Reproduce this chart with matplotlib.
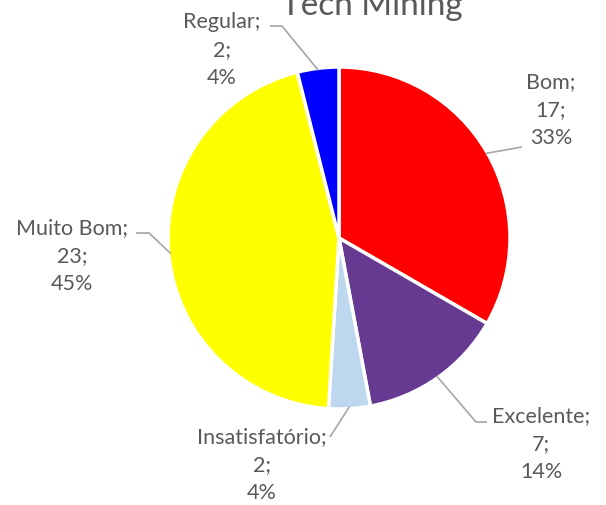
import numpy as np
import matplotlib
matplotlib.use("Agg")
import matplotlib.pyplot as plt

plt.rcParams["font.family"] = ["Lato", "DejaVu Sans"]

categories = ["Bom", "Excelente", "Insatisfatório", "Muito Bom", "Regular"]
values = [17, 7, 2, 23, 2]
colors = ["#FF0000", "#673A92", "#BDD7EE", "#FFFF00", "#0000FF"]

W, H = 606, 505
CX, CY, R = 339, H - 238, 171
TXT = "#595959"
LINE = "#A6A6A6"

# label centre (pixels from top-left) and leader-line elbow/end
label_pos = {
    "Bom": (551, 110, [(522, 147)]),
    "Excelente": (541, 444, [(476, 422), (487, 422)]),
    "Insatisfatório": (262, 465, [(330, 437)]),
    "Muito Bom": (72, 256, [(149, 233), (136, 233)]),
    "Regular": (222, 50, [(282, 26), (270, 26)]),
}

fig = plt.figure(figsize=(W / 100, H / 100), dpi=100)
ax = fig.add_axes([0, 0, 1, 1])

wedges, _ = ax.pie(values, colors=colors, startangle=90, counterclock=False,
                   center=(CX, CY), radius=R,
                   wedgeprops=dict(edgecolor="white", linewidth=2.5))
ax.set_xlim(0, W)
ax.set_ylim(0, H)
ax.set_aspect("equal")
ax.axis("off")

total = sum(values)
for w, cat, v in zip(wedges, categories, values):
    mid = np.deg2rad((w.theta1 + w.theta2) / 2)
    x0 = CX + (R - 2) * np.cos(mid)
    y0 = CY + (R - 2) * np.sin(mid)
    lx, ly, pts = label_pos[cat]
    xs = [x0] + [p[0] for p in pts]
    ys = [y0] + [H - p[1] for p in pts]
    ax.plot(xs, ys, color=LINE, lw=1.2, solid_capstyle="butt")
    pct = round(100 * v / total)
    ax.text(lx, H - ly, f"{cat};\n{v};\n{pct}%", ha="center", va="center",
            color=TXT, fontsize=15.5, linespacing=1.52)

ax.text(372, H - 15, "Tech Mining", ha="center", va="baseline",
        color=TXT, fontsize=24)

fig.savefig("out.png", dpi=100)
